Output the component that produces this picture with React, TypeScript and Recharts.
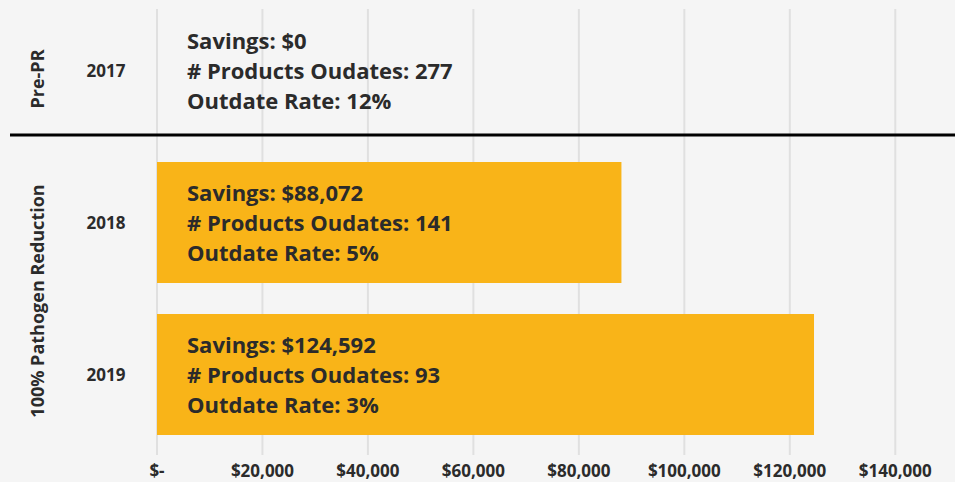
import React from 'react';
import { BarChart, Bar, XAxis, YAxis, CartesianGrid } from 'recharts';

const years = ['2017', '2018', '2019'];
const savings = [0, 88072, 124592];
const productsOutdated = [277, 141, 93];
const outdateRates = [12, 5, 3];
const xTicks = [0, 20000, 40000, 60000, 80000, 100000, 120000, 140000];

const chartData = years.map((year, i) => ({
  year,
  savings: savings[i],
  products: productsOutdated[i],
  rate: outdateRates[i],
}));

const FONT = '"Open Sans", sans-serif';
const TEXT = '#2b2b2b';

const fmtMoney = (v: number) => (v === 0 ? '$-' : '$' + v.toLocaleString('en-US'));

// year label plus the three info lines for each row
function RowTick(props: any) {
  const { y, payload, index } = props;
  const row = chartData[index];
  const lines = [
    `Savings: $${row.savings.toLocaleString('en-US')}`,
    `# Products Oudates: ${row.products}`,
    `Outdate Rate: ${row.rate}%`,
  ];
  return (
    <g>
      <text x={106} y={y} textAnchor="middle" dominantBaseline="central"
        fontFamily={FONT} fontWeight={700} fontSize={17} fill={TEXT}>
        {payload.value}
      </text>
      {lines.map((t, i) => (
        <text key={i} x={187} y={y + (i - 1) * 30} dominantBaseline="central"
          fontFamily={FONT} fontWeight={700} fontSize={22} fill={TEXT}>
          {t}
        </text>
      ))}
    </g>
  );
}

function GridLine(props: any) {
  const { x1, x2, index } = props;
  if (index >= xTicks.length) return null;
  return <line x1={x1} x2={x2} y1={9} y2={455} stroke="#e0e0e0" strokeWidth={2} />;
}

export default function App() {
  return (
    <div style={{ position: 'absolute', left: 0, top: 0, width: 955, height: 482, background: '#f5f5f5', overflow: 'hidden' }}>
      <BarChart
        width={955}
        height={482}
        data={chartData}
        layout="vertical"
        margin={{ top: -6, right: 7, left: 0, bottom: 2 }}
      >
        <CartesianGrid horizontal={false} vertical={GridLine} />
        <Bar dataKey="savings" fill="#f9b418" barSize={121} isAnimationActive={false} />
        <XAxis
          type="number"
          domain={[0, 150000]}
          ticks={xTicks}
          tickFormatter={fmtMoney}
          axisLine={false}
          tickLine={false}
          height={30}
          tickMargin={9}
          tick={{ fill: TEXT, fontFamily: FONT, fontWeight: 700, fontSize: 17 }}
        />
        <YAxis
          type="category"
          dataKey="year"
          width={157}
          axisLine={false}
          tickLine={false}
          tick={<RowTick />}
        />
      </BarChart>
      <svg width={955} height={482} style={{ position: 'absolute', left: 0, top: 0, pointerEvents: 'none' }}>
        <line x1={10} x2={955} y1={135} y2={135} stroke="#000" strokeWidth={3} />
        <text x={37} y={79} transform="rotate(-90 37 79)" textAnchor="middle" dominantBaseline="central"
          fontFamily={FONT} fontWeight={700} fontSize={18} fill={TEXT}>
          Pre-PR
        </text>
        <text x={37} y={301} transform="rotate(-90 37 301)" textAnchor="middle" dominantBaseline="central"
          fontFamily={FONT} fontWeight={700} fontSize={18} fill={TEXT}>
          100% Pathogen Reduction
        </text>
      </svg>
    </div>
  );
}
